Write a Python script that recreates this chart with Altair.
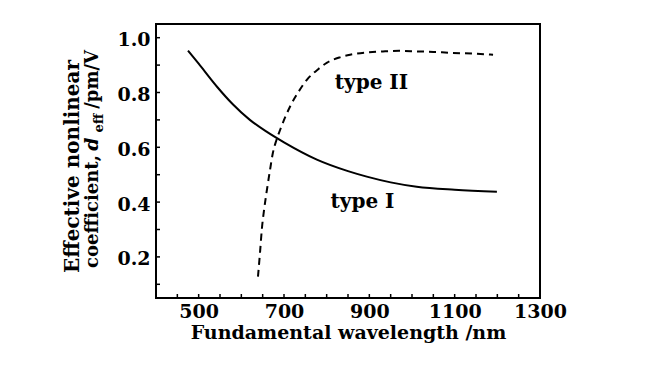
import altair as alt
import pandas as pd

# Type I (solid) curve
t1_x = [475, 500, 543, 580, 620, 660, 700, 777, 850, 894, 950, 1011, 1100, 1199]
t1_y = [0.953, 0.905, 0.821, 0.757, 0.700, 0.656, 0.618, 0.555, 0.513, 0.493, 0.472, 0.456, 0.445, 0.438]
# Type II (dashed) curve
t2_x = [639, 644, 648, 654, 660, 667, 674, 682, 691, 714, 735, 754, 780, 801, 830, 855, 900, 932, 970, 1011, 1050, 1089, 1140, 1190]
t2_y = [0.128, 0.220, 0.300, 0.380, 0.445, 0.515, 0.580, 0.625, 0.664, 0.748, 0.805, 0.847, 0.885, 0.909, 0.928, 0.938, 0.947, 0.950, 0.952, 0.950, 0.948, 0.945, 0.942, 0.938]

labels_text = ["type II", "type I"]
labels_x = [905, 884]
labels_y = [0.836, 0.400]

x_minor = list(range(450, 1300, 50))
y_minor = [round(0.1 * i, 1) for i in range(1, 11)]

W, H = 384, 274
XD = [400, 1300]
YD = [0.05, 1.05]
FONT = "DejaVu Serif"

df1 = pd.DataFrame({"x": t1_x, "y": t1_y})
df2 = pd.DataFrame({"x": t2_x, "y": t2_y})
dfl = pd.DataFrame({"t": labels_text, "x": labels_x, "y": labels_y})
dfx = pd.DataFrame({"x": x_minor})
dfy = pd.DataFrame({"y": y_minor})

xs = alt.Scale(domain=XD, nice=False, zero=False)
ys = alt.Scale(domain=YD, nice=False, zero=False)

xaxis = alt.Axis(values=[500, 700, 900, 1100, 1300], format="d", ticks=False, domain=False, grid=False,
                 labelFont=FONT, labelFontSize=19, labelFontWeight="bold", labelColor="black",
                 labelPadding=4, labelFlush=False, labelOverlap=False,
                 title="Fundamental wavelength /nm", titleFont=FONT, titleFontSize=19,
                 titleFontWeight="bold", titleColor="black", titlePadding=2)
yaxis = alt.Axis(values=[0.2, 0.4, 0.6, 0.8, 1.0], format=".1f", ticks=False, domain=False, grid=False,
                 labelFont=FONT, labelFontSize=19, labelFontWeight="bold", labelColor="black",
                 labelPadding=6, labelOffset=2, title=None)

solid = alt.Chart(df1).mark_line(color="black", strokeWidth=2, interpolate="monotone").encode(
    x=alt.X("x:Q", scale=xs, axis=xaxis),
    y=alt.Y("y:Q", scale=ys, axis=yaxis),
)
dashed = alt.Chart(df2).mark_line(color="black", strokeWidth=2, strokeDash=[7, 5], interpolate="monotone").encode(
    x=alt.X("x:Q", scale=xs), y=alt.Y("y:Q", scale=ys)
)
lbl = alt.Chart(dfl).mark_text(font=FONT, fontSize=20, fontWeight="bold", color="black").encode(
    x=alt.X("x:Q", scale=xs), y=alt.Y("y:Q", scale=ys), text="t:N"
)
xt = alt.Chart(dfx).mark_rule(color="black", strokeWidth=1.5).encode(
    x=alt.X("x:Q", scale=xs), y=alt.value(H), y2=alt.value(H - 4)
)
yt = alt.Chart(dfy).mark_rule(color="black", strokeWidth=1.5).encode(
    y=alt.Y("y:Q", scale=ys), x=alt.value(0), x2=alt.value(4)
)

# y-axis title, drawn as rotated text
def ytext(s, size, xv, yv, align, style="normal"):
    return alt.Chart(pd.DataFrame({"t": [s]})).mark_text(
        font=FONT, fontSize=size, fontWeight="bold", fontStyle=style, angle=270, align=align,
        baseline="alphabetic", color="black"
    ).encode(text="t:N", x=alt.value(xv), y=alt.value(yv))

ttl1 = ytext("Effective nonlinear", 20, -77, 249, "left")
ttl2a = ytext("coefficient,", 18, -58, 244, "left")
ttl2d = ytext("d", 19, -58, 120, "center", "italic")
ttl2b = ytext("eff", 13, -53, 99, "center")
ttl2c = ytext("/pm/V", 18, -58, 26, "right")

chart = alt.layer(solid, dashed, lbl, xt, yt, ttl1, ttl2a, ttl2d, ttl2b, ttl2c).properties(
    width=W, height=H,
    autosize=alt.AutoSizeParams(type="none"),
    padding={"left": 148, "top": 16, "right": 100, "bottom": 60},
    background="white",
).configure_view(stroke="black", strokeWidth=2)

chart.save("out.html", embed_options={"renderer": "svg", "actions": False})
